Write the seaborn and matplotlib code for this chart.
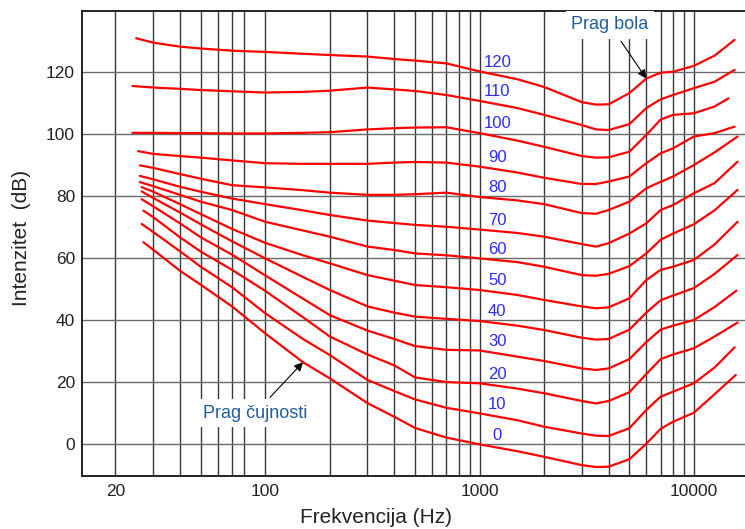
import matplotlib
matplotlib.use("Agg")
import matplotlib.pyplot as plt
import matplotlib.ticker as mticker
import pandas as pd
import seaborn as sns

# loudness level of each contour (phon)
phons = [0, 10, 20, 30, 40, 50, 60, 70, 80, 90, 100, 110, 120]

# frequencies shared by every contour between its first and last point (Hz)
mid_hz = [30, 40, 50, 70, 100, 150, 200, 300, 400, 500, 700, 1000, 1500, 2000,
          3000, 3500, 4000, 5000, 6000, 7000, 8000, 10000, 12500]
start_hz = [27, 26.5, 27, 26.5, 26.5, 26.5, 26, 26, 26, 25.5, 24, 24, 25]
end_hz = [15700, 15500, 16000, 15800, 16000, 16000, 16000, 16000, 16000, 15500, 14500, 15500, 15500]

# intensity (dB): first point, the mid_hz points, last point
lvl_0 = [65.2, 62.8, 56.0, 51.5, 44.5, 35.8, 26.5, 21.3, 13.3, 8.9, 5.3, 2.2, 0.0, -2.2, -4.0,
         -6.7, -7.3, -7.2, -4.8, 0.2, 5.0, 7.3, 10.2, 16.2, 22.4]
lvl_10 = [71.1, 68.5, 62.3, 57.3, 50.7, 42.3, 34.0, 28.8, 20.8, 17.2, 14.5, 11.8, 10.0, 7.8, 5.7,
          3.5, 2.8, 2.7, 5.2, 11.1, 15.4, 17.0, 19.7, 24.8, 31.3]
lvl_20 = [75.4, 73.3, 66.8, 62.2, 56.3, 49.5, 41.0, 34.8, 29.0, 25.5, 21.6, 20.1, 19.7, 18.0, 16.5,
          14.0, 13.2, 14.0, 16.8, 22.7, 27.5, 29.0, 31.0, 34.8, 39.3]
lvl_30 = [79.1, 76.8, 71.3, 66.8, 61.2, 54.5, 47.0, 41.7, 36.7, 34.0, 31.7, 30.5, 30.3, 28.3, 26.9,
          24.5, 24.0, 24.5, 27.5, 33.0, 37.0, 38.3, 40.1, 44.3, 49.6]
lvl_40 = [81.6, 79.5, 74.8, 71.0, 65.5, 60.0, 54.0, 49.8, 44.5, 42.5, 41.2, 40.5, 39.8, 38.3, 36.9,
          34.4, 33.8, 34.0, 37.0, 42.5, 46.5, 48.0, 50.4, 55.0, 61.1]
lvl_50 = [83.0, 81.5, 77.5, 74.3, 69.5, 65.0, 61.0, 58.4, 54.6, 52.8, 51.4, 50.7, 49.8, 48.2, 46.6,
          44.5, 43.9, 44.2, 47.1, 53.0, 56.3, 57.3, 59.5, 64.5, 71.8]
lvl_60 = [84.6, 83.3, 80.5, 78.3, 75.6, 71.8, 69.0, 67.0, 63.8, 62.7, 61.6, 61.0, 60.0, 58.8, 57.3,
          54.6, 54.4, 55.0, 57.5, 61.6, 66.0, 68.0, 71.0, 75.5, 82.1]
lvl_70 = [86.6, 85.5, 83.1, 81.5, 79.3, 77.5, 75.5, 74.0, 72.2, 71.4, 70.8, 70.2, 69.3, 68.2, 67.0,
          64.6, 63.8, 64.9, 68.0, 71.3, 75.6, 77.2, 81.0, 84.3, 91.2]
lvl_80 = [90.0, 89.2, 87.2, 85.7, 83.6, 82.9, 82.0, 81.2, 80.5, 80.5, 80.7, 81.2, 79.8, 78.7, 77.5,
          74.6, 74.4, 75.6, 78.3, 82.6, 84.7, 86.4, 90.1, 94.2, 99.3]
lvl_90 = [94.6, 93.7, 93.0, 92.5, 91.6, 90.7, 90.5, 90.5, 90.5, 90.9, 91.1, 90.9, 89.6, 87.7, 86.0,
          84.0, 84.0, 84.8, 86.4, 90.7, 93.9, 95.5, 99.3, 100.4, 102.5]
lvl_100 = [100.5, 100.5, 100.4, 100.4, 100.3, 100.3, 100.5, 100.7, 101.6, 102.0, 102.2, 102.3, 100.4,
           98.0, 96.0, 93.0, 92.5, 92.6, 94.4, 99.8, 104.8, 106.3, 106.8, 109.0, 111.6]
lvl_110 = [115.6, 115.1, 114.7, 114.3, 113.9, 113.5, 113.7, 114.1, 115.1, 114.5, 114.0, 112.7, 110.8,
           108.5, 106.3, 103.0, 101.6, 101.4, 103.3, 108.5, 111.3, 112.7, 114.9, 117.0, 120.8]
lvl_120 = [131.0, 129.6, 128.3, 127.7, 127.0, 126.6, 126.0, 125.6, 125.1, 124.3, 123.8, 122.9, 120.3,
           117.8, 115.3, 110.4, 109.6, 109.7, 113.3, 118.0, 119.9, 120.2, 122.1, 125.4, 130.5]

levels = [lvl_0, lvl_10, lvl_20, lvl_30, lvl_40, lvl_50, lvl_60, lvl_70, lvl_80, lvl_90,
          lvl_100, lvl_110, lvl_120]

rows = []
for p, s, e, lv in zip(phons, start_hz, end_hz, levels):
    for f, db in zip([s] + mid_hz + [e], lv):
        rows.append((p, f, db))
df = pd.DataFrame(rows, columns=["phon", "hz", "db"])

sns.set_theme(style="white")
plt.rcParams['font.family'] = ['Liberation Sans', 'DejaVu Sans']

fig = plt.figure(figsize=(7.45, 5.29), dpi=100)
ax = fig.add_axes([82 / 745, 53 / 529, 663 / 745, 465 / 529])

sns.lineplot(data=df, x="hz", y="db", hue="phon", palette=["#ff0000"] * len(phons),
             estimator=None, sort=False, legend=False, lw=1.6, ax=ax)

ax.set_xscale("log")
ax.set_xlim(13.96, 17330)
ax.set_ylim(-10.2, 139.8)

major_hz = [20, 100, 1000, 10000]
minor_hz = [30, 40, 50, 60, 70, 80, 200, 300, 400, 500, 600, 700, 800, 900,
            2000, 3000, 4000, 5000, 6000, 7000, 8000, 9000]
ax.xaxis.set_major_locator(mticker.FixedLocator(major_hz))
ax.xaxis.set_major_formatter(mticker.FuncFormatter(lambda v, p: "%d" % v))
ax.xaxis.set_minor_locator(mticker.FixedLocator(minor_hz))
ax.xaxis.set_minor_formatter(mticker.NullFormatter())
ax.set_yticks(range(0, 121, 20))

ax.set_axisbelow(True)
ax.grid(axis="x", which="both", color="#383838", lw=1.0)
ax.grid(axis="y", which="major", color="#6a6a6a", lw=1.0)
ax.tick_params(axis="both", which="both", length=0, labelsize=12.5, colors="#222222")
ax.tick_params(axis="y", pad=5)
ax.tick_params(axis="x", pad=5.5)

for side in ["left", "top", "bottom"]:
    ax.spines[side].set_color("#111111")
    ax.spines[side].set_linewidth(1.3)
ax.spines["right"].set_visible(False)

ax.set_xlabel("Frekvencija (Hz)", fontsize=15, color="#222222", va="center")
ax.xaxis.set_label_coords(0.4434, -0.0903)
ax.set_ylabel("Intenzitet  (dB)", fontsize=15, color="#222222", va="center")
ax.yaxis.set_label_coords(-0.092, 0.513)

# phon numbers just above each contour, right of 1 kHz
i1k = 1 + mid_hz.index(1000)
for p, lv in zip(phons, levels):
    ax.text(1210, lv[i1k] + 3, str(p), color="#2b2bff", fontsize=12,
            ha="center", va="center")

note_color = "#1f5d9e"
box = dict(boxstyle="square,pad=0.3", fc="white", ec="none")
arrow = dict(arrowstyle="-|>", color="black", lw=0.8, mutation_scale=13, shrinkB=0)

ax.annotate("Prag bola", xy=(6000, lvl_120[1 + mid_hz.index(6000)]), xytext=(4062, 135.3),
            fontsize=13, color=note_color, ha="center", va="center",
            bbox=box, arrowprops=arrow)
ax.annotate("Prag čujnosti", xy=(150, lvl_0[1 + mid_hz.index(150)]), xytext=(89.6, 10.0),
            fontsize=13, color=note_color, ha="center", va="center",
            bbox=box, arrowprops=arrow)

fig.savefig("out.png", dpi=100)
